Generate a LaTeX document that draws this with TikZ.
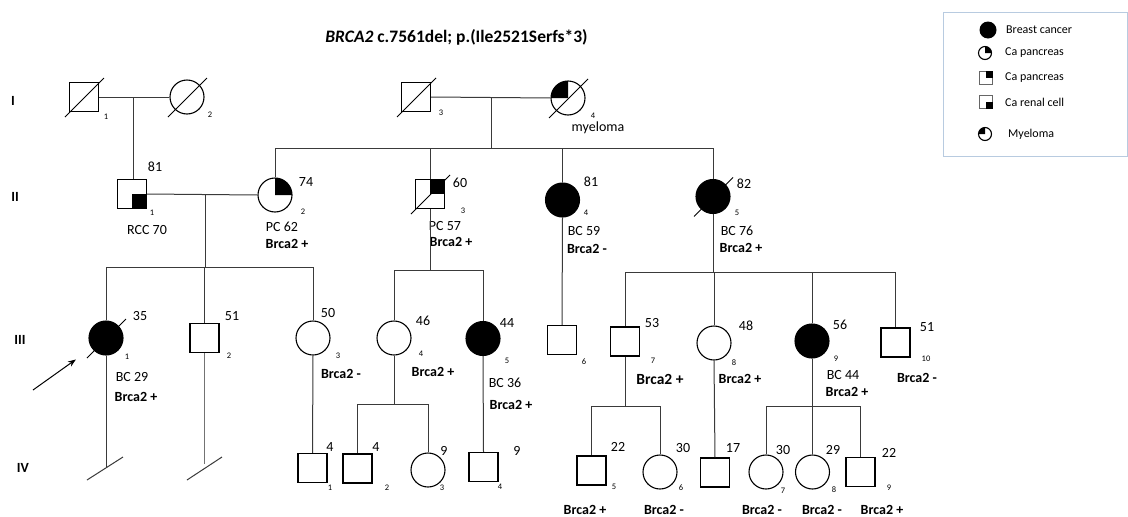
\documentclass[tikz,border=0pt]{standalone}
\usepackage{fontspec}
\setmainfont{Carlito}
\usetikzlibrary{arrows.meta}
\definecolor{legendc}{HTML}{B8CBE0}
\definecolor{linec}{HTML}{3A3A3A}
\newcommand\deadmark[1]{\draw[line width=0.9pt] ([shift={(-19pt,-20pt)}]#1.center) -- ([shift={(20pt,19pt)}]#1.center);}
\newcommand\circUR[2]{\fill (#1.center) -- ++(0pt,#2) arc[start angle=90,end angle=0,radius=#2] -- cycle;}
\newcommand\circUL[2]{\fill (#1.center) -- ++(0pt,#2) arc[start angle=90,end angle=180,radius=#2] -- cycle;}
\newcommand\sqUR[1]{\fill (#1.center) rectangle (#1.north east);}
\newcommand\sqLR[1]{\fill (#1.center) rectangle (#1.south east);}
\begin{document}
\begin{tikzpicture}[x=1pt,y=1pt,
  conn/.style={draw=linec, line width=1pt},
  male/.style={draw, rectangle, minimum size=29pt, inner sep=0pt, line width=1.1pt},
  female/.style={draw, circle, minimum size=34pt, inner sep=0pt, line width=1.1pt},
  aff/.style={fill=black},
  lbl/.style={font=\fontsize{14}{15}\selectfont, inner sep=0pt},
  gt/.style={font=\bfseries\fontsize{14}{15}\selectfont, inner sep=0pt},
  idx/.style={font=\fontsize{8.5}{9}\selectfont, inner sep=0pt},
  gen/.style={font=\bfseries\fontsize{14}{16}\selectfont, inner sep=0pt},
  leg/.style={font=\fontsize{12}{13}\selectfont, inner sep=0pt, anchor=west},
  legi/.style={inner sep=0pt, line width=1.1pt}]
\fill[white] (0,0) rectangle (1128,-517);
\useasboundingbox (0,0) rectangle (1128,-517);

% title
\node[font=\bfseries\fontsize{17.5}{20}\selectfont, inner sep=0pt] (title) at (456.5,-37) {\textit{BRCA2} c.7561del; p.(Ile2521Serfs*3)};

% generation labels
\node[gen] (gI) at (13,-101) {I};
\node[gen] (gII) at (15,-197) {II};
\node[gen] (gIII) at (20,-340) {III};
\node[gen] (gIV) at (23,-468) {IV};

% legend
\node[draw=legendc, line width=1pt, minimum width=184pt, minimum height=144pt, anchor=north west, inner sep=0pt] (legend) at (943,-12) {};
\node[legi, circle, fill=black, minimum size=17pt] (lg1) at (988,-30) {};
\node[legi, circle, draw, minimum size=13pt] (lg2) at (985,-53) {};
\circUR{lg2}{6.5pt}
\node[legi, rectangle, draw=black!60, minimum size=13pt, line width=0.9pt] (lg3) at (986,-78) {};
\sqUR{lg3}
\node[legi, rectangle, draw=black!60, minimum size=13pt, line width=0.9pt] (lg4) at (986,-102) {};
\sqLR{lg4}
\node[legi, circle, draw, minimum size=13pt] (lg5) at (985,-134) {};
\circUL{lg5}{6.5pt}
\node[leg] (lt1) at (1006,-30) {Breast cancer};
\node[leg] (lt2) at (1005,-53) {Ca pancreas};
\node[leg] (lt3) at (1005,-78) {Ca pancreas};
\node[leg] (lt4) at (1005,-102) {Ca renal cell};
\node[leg] (lt5) at (1008,-134) {Myeloma};

% ---------- Generation I
\node[male] (i1) at (84,-97) {};
\node[female] (i2) at (187,-97) {};
\node[male] (i3) at (416,-97) {};
\node[female] (i4) at (568,-98) {};
\circUL{i4}{17pt}
\deadmark{i1}\deadmark{i2}\deadmark{i3}\deadmark{i4}
\node[idx] (i1n) at (106,-117) {1};
\node[idx] (i2n) at (210,-115) {2};
\node[idx] (i3n) at (441,-113) {3};
\node[idx] (i4n) at (593,-116) {4};
\node[lbl] (i4d) at (598,-128) {myeloma};

% ---------- Generation II
\node[male] (ii1) at (132,-194) {};
\sqLR{ii1}
\node[female] (ii2) at (275,-195) {};
\circUR{ii2}{17pt}
\node[male] (ii3) at (430,-194) {};
\sqUR{ii3}
\deadmark{ii3}
\node[female, aff] (ii4) at (562.5,-200) {};
\node[female, aff] (ii5) at (713,-196.5) {};
\deadmark{ii5}

\node[lbl] (ii1a) at (155,-167) {81};
\node[idx] (ii1n) at (152,-213) {1};
\node[lbl] (ii1d) at (147,-230) {RCC 70};
\node[lbl] (ii2a) at (306,-182) {74};
\node[idx] (ii2n) at (303,-212) {2};
\node[lbl] (ii2d) at (282,-227) {PC 62};
\node[gt] (ii2g) at (287,-244) {Brca2 +};
\node[lbl] (ii3a) at (460,-183) {60};
\node[idx] (ii3n) at (463,-211) {3};
\node[lbl] (ii3d) at (445,-226) {PC 57};
\node[gt] (ii3g) at (451,-242) {Brca2 +};
\node[lbl] (ii4a) at (591,-182) {81};
\node[idx] (ii4n) at (586,-213) {4};
\node[lbl] (ii4d) at (584,-231) {BC 59};
\node[gt] (ii4g) at (587,-249) {Brca2 -};
\node[lbl] (ii5a) at (744,-184) {82};
\node[idx] (ii5n) at (737,-213) {5};
\node[lbl] (ii5d) at (737,-231) {BC 76};
\node[gt] (ii5g) at (741,-248) {Brca2 +};

% ---------- Generation III
\node[female, aff] (iii1) at (106,-338) {};
\deadmark{iii1}
\node[male] (iii2) at (204.5,-338) {};
\node[female] (iii3) at (313,-338) {};
\node[female] (iii4) at (394,-338) {};
\node[female, aff] (iii5) at (483,-338.5) {};
\node[male] (iii6) at (562,-340) {};
\node[male] (iii7) at (625,-341.5) {};
\node[female] (iii8) at (714,-343) {};
\node[female, aff] (iii9) at (812,-341) {};
\node[male] (iii10) at (895.5,-342.5) {};

\node[lbl] (iii1a) at (140,-316) {35};
\node[idx] (iii1n) at (127,-357) {1};
\node[lbl] (iii1d) at (132,-377) {BC 29};
\node[gt] (iii1g) at (136,-397) {Brca2 +};
\node[lbl] (iii2a) at (232,-316) {51};
\node[idx] (iii2n) at (229,-356) {2};
\node[lbl] (iii3a) at (328,-313) {50};
\node[idx] (iii3n) at (338,-356) {3};
\node[gt] (iii3g) at (341,-374) {Brca2 -};
\node[lbl] (iii4a) at (423,-321) {46};
\node[idx] (iii4n) at (421,-354) {4};
\node[gt] (iii4g) at (433,-372) {Brca2 +};
\node[lbl] (iii5a) at (507,-323) {44};
\node[idx] (iii5n) at (507,-361) {5};
\node[lbl] (iii5d) at (505,-383) {BC 36};
\node[gt] (iii5g) at (511,-405) {Brca2 +};
\node[idx] (iii6n) at (584,-362) {6};
\node[lbl] (iii7a) at (652,-323) {53};
\node[idx] (iii7n) at (653,-361) {7};
\node[gt, font=\bfseries\fontsize{15.5}{17}\selectfont] (iii7g) at (660,-379) {Brca2 +};
\node[lbl] (iii8a) at (746,-326) {48};
\node[idx] (iii8n) at (734,-363) {8};
\node[gt] (iii8g) at (740,-379) {Brca2 +};
\node[lbl] (iii9a) at (840,-325) {56};
\node[idx] (iii9n) at (836,-359) {9};
\node[lbl] (iii9d) at (843,-375) {BC 44};
\node[gt] (iii9g) at (847,-392) {Brca2 +};
\node[lbl] (iii10a) at (927,-327) {51};
\node[idx] (iii10n) at (926,-359) {10};
\node[gt] (iii10g) at (917,-378) {Brca2 -};

% ---------- Generation IV
\node[male] (iv1) at (312.5,-468) {};
\node[male] (iv2) at (357.5,-468.5) {};
\node[female] (iv3) at (428,-470) {};
\node[male] (iv4) at (483.5,-467) {};
\node[male] (iv5) at (591.5,-470.5) {};
\node[female] (iv6) at (660,-472) {};
\node[male] (iv7) at (715,-472.5) {};
\node[female] (iv8) at (766,-472) {};
\node[female] (iv9) at (812.5,-472) {};
\node[male] (iv10) at (860.5,-472) {};

\node[lbl] (iv1a) at (330,-447) {4};
\node[idx] (iv1n) at (330,-488) {1};
\node[lbl] (iv2a) at (376,-447) {4};
\node[idx] (iv2n) at (387,-488) {2};
\node[lbl] (iv3a) at (444,-451) {9};
\node[idx] (iv3n) at (442,-488) {3};
\node[lbl] (iv4a) at (517,-451) {9};
\node[idx] (iv4n) at (500,-487) {4};
\node[lbl] (iv5a) at (618,-447) {22};
\node[idx] (iv5n) at (614,-487) {5};
\node[gt] (iv5g) at (585,-510) {Brca2 +};
\node[lbl] (iv6a) at (683,-448) {30};
\node[idx] (iv6n) at (681,-488) {6};
\node[gt] (iv6g) at (664,-510) {Brca2 -};
\node[lbl] (iv7a) at (733,-448) {17};
\node[lbl] (iv8a) at (783,-450) {30};
\node[idx] (iv8n) at (783,-491) {7};
\node[gt] (iv8g) at (762,-510) {Brca2 -};
\node[lbl] (iv9a) at (833,-450) {29};
\node[idx] (iv9n) at (834,-490) {8};
\node[gt] (iv9g) at (822,-510) {Brca2 -};
\node[lbl] (iv10a) at (889,-453) {22};
\node[idx] (iv10n) at (889,-488) {9};
\node[gt] (iv10g) at (882,-510) {Brca2 +};

% ---------- connectors
% I-1 x I-2
\draw[conn] (i1.east) -- (i2.west);
\coordinate (m1) at (133,-98);
\draw[conn] (m1) -- (m1 |- ii1.north);
% I-3 x I-4
\draw[conn] (i3.east) -- (i4.west);
\coordinate (m2) at (491,-97);
\coordinate (s2) at (491,-148);
\draw[conn] (m2) -- (s2);
\draw[conn] (ii2.north |- s2) -- (ii5.north |- s2);
\foreach \n in {ii2,ii3,ii4,ii5} \draw[conn] (\n.north |- s2) -- (\n.north);
% II-1 x II-2
\draw[conn] (ii1.east) -- (ii2.west);
\coordinate (m3) at (205,-194);
\coordinate (s3) at (205,-267);
\draw[conn] (m3) -- (s3);
\draw[conn] (iii1.north |- s3) -- (iii3.north |- s3);
\foreach \n in {iii1,iii2,iii3} \draw[conn] (\n.north |- s3) -- (\n.north);
% III-1, III-2 no offspring marks
\coordinate (e1) at (106,-467);
\draw[conn] (iii1.south) -- (e1);
\coordinate (e1a) at (87,-480);
\coordinate (e1b) at (123,-457);
\draw[conn] (e1a) -- (e1b);
\coordinate (e2) at (204.5,-464);
\draw[conn, draw=black!55] (iii2.south) -- (e2);
\coordinate (e2a) at (187,-480);
\coordinate (e2b) at (222,-457);
\draw[conn] (e2a) -- (e2b);
% III-3 -> IV-1
\draw[conn] (iii3.south) -- (iv1.north);
% II-3 children
\coordinate (s4) at (430,-270);
\draw[conn] (ii3.south) -- (s4);
\draw[conn] (iii4.north |- s4) -- (iii5.north |- s4);
\foreach \n in {iii4,iii5} \draw[conn] (\n.north |- s4) -- (\n.north);
% III-4 children
\coordinate (s5) at (394,-404);
\draw[conn] (iii4.south) -- (s5);
\draw[conn] (iv2.north |- s5) -- (iv3.north |- s5);
\foreach \n in {iv2,iv3} \draw[conn] (\n.north |- s5) -- (\n.north);
% III-5 -> IV-4
\draw[conn] (iii5.south) -- (iv4.north);
% II-4 -> III-6
\draw[conn] (ii4.south) -- (iii6.north);
% II-5 children
\coordinate (s6) at (713,-272);
\draw[conn] (ii5.south) -- (s6);
\draw[conn] (iii7.north |- s6) -- (iii10.north |- s6);
\foreach \n in {iii7,iii8,iii9,iii10} \draw[conn] (\n.north |- s6) -- (\n.north);
% III-7 children
\coordinate (s7) at (625,-406);
\draw[conn] (iii7.south) -- (s7);
\draw[conn] (iv5.north |- s7) -- (iv6.north |- s7);
\foreach \n in {iv5,iv6} \draw[conn] (\n.north |- s7) -- (\n.north);
% III-8 -> IV-7
\draw[conn] (iii8.south) -- (iv7.north);
% III-9 children
\coordinate (s8) at (812,-406);
\draw[conn] (iii9.south) -- (s8);
\draw[conn] (iv8.north |- s8) -- (iv10.north |- s8);
\foreach \n in {iv8,iv9,iv10} \draw[conn] (\n.north |- s8) -- (\n.north);

% proband arrow
\coordinate (arrS) at (33,-390);
\draw[line width=1pt, -{Stealth[length=8pt,width=6pt]}, shorten >=37pt] (arrS) -- (iii1.center);
\end{tikzpicture}
\end{document}
